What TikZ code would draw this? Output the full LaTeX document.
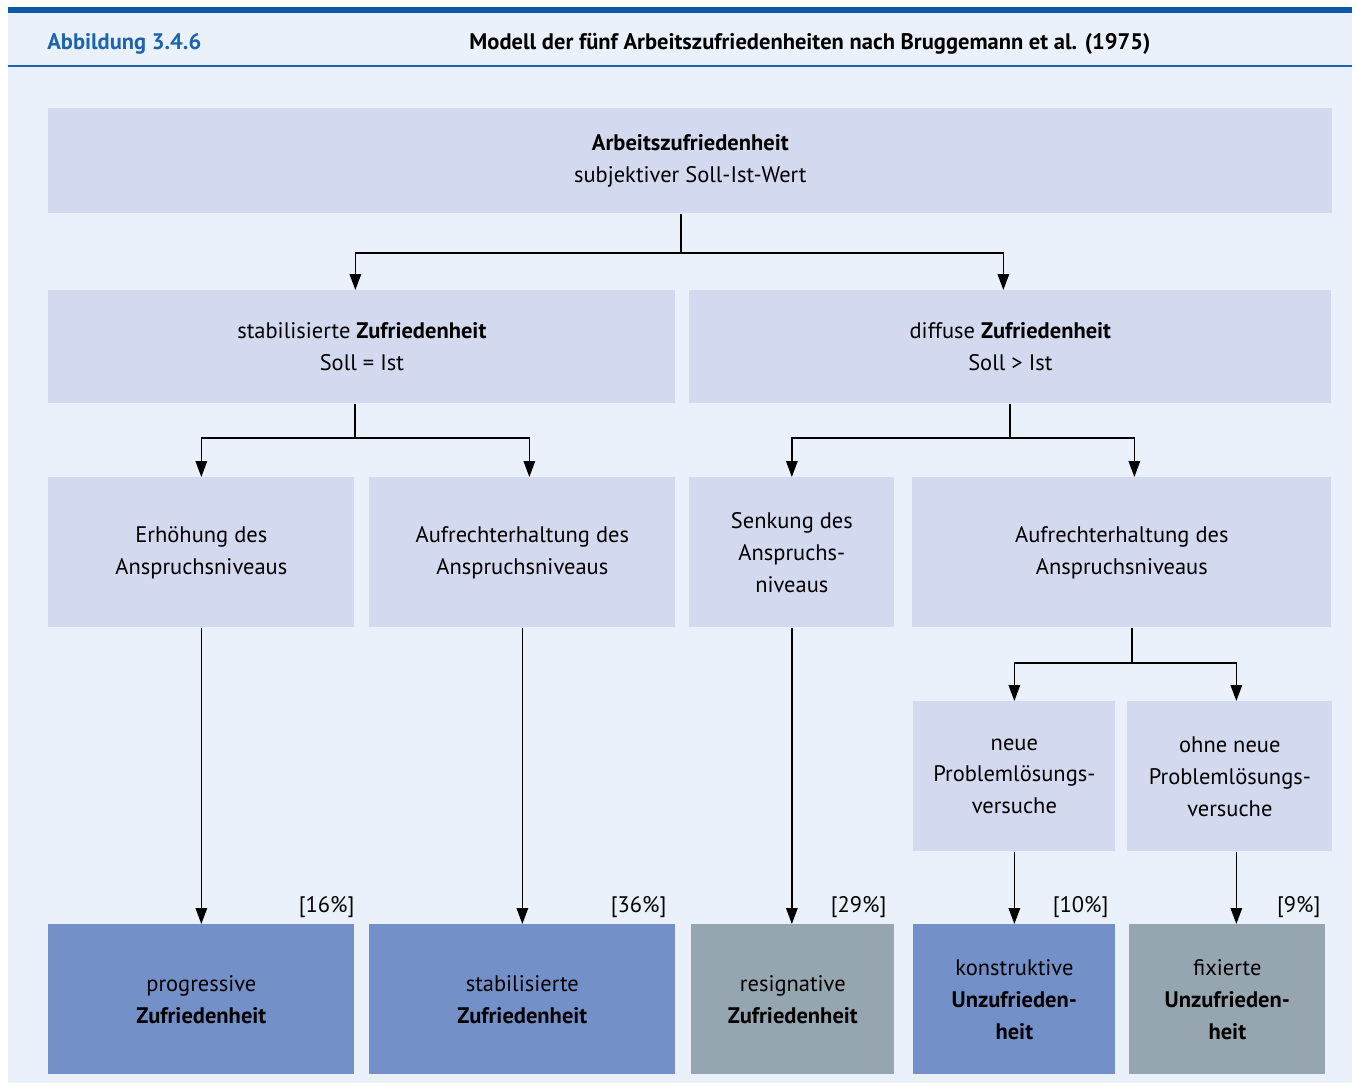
\documentclass[tikz,border=0pt]{standalone}
\usepackage{fontspec}
\setmainfont{PT Sans}
\usepackage{tikz}
\usetikzlibrary{arrows.meta,positioning}
\definecolor{azBar}{HTML}{0A5AA6}
\definecolor{azHead}{HTML}{1C64AE}
\definecolor{azBg}{HTML}{EAF1FB}
\definecolor{azBox}{HTML}{D3D9EF}
\definecolor{azBlue}{HTML}{7390C9}
\definecolor{azGrey}{HTML}{95A6B0}
\tikzset{
  boxsize/.style 2 args={minimum width=#1*0.02cm,minimum height=#2*0.02cm},
  flowblock/.style={rectangle,fill=azBox,anchor=north west,inner sep=0pt,
    align=center,font=\fontsize{12.8}{18.2}\selectfont},
  flowgood/.style={flowblock,fill=azBlue},
  flowbad/.style={flowblock,fill=azGrey},
  share/.style={inner sep=0pt,font=\fontsize{12.8}{18.2}\selectfont},
  headline/.style={inner sep=0pt,font=\fontsize{12.8}{15}\selectfont\bfseries},
  link/.style={line width=0.8pt},
  stem/.style={line width=1.4pt},
  arrow/.style={link,-{Triangle[width=6.5pt,length=9pt]}}
}

\begin{document}
\begin{tikzpicture}[x=0.02cm,y=-0.02cm]
  \useasboundingbox (0,0) rectangle (1357,1086);
  \fill[azBg] (8,12) rectangle (1352,1083);
  \fill[azBar] (8,7) rectangle (1352,13);
  \draw[azHead,line width=0.9pt] (8,66) -- (1352,66);
  \node[headline,anchor=west,text=azHead] (fig) at (47,44) {Abbildung 3.4.6};
  \node[headline] (title) at (810,44) {Modell der fünf Arbeitszufriedenheiten nach Bruggemann et al. (1975)};

  % Stufen
  \node[flowblock,boxsize={1284}{105}] (top) at (48,108) {\textbf{Arbeitszufriedenheit}\\subjektiver Soll-Ist-Wert};
  \node[flowblock,boxsize={627}{113}] (stab) at (48,290) {stabilisierte \textbf{Zufriedenheit}\\Soll = Ist};
  \node[flowblock,boxsize={642}{113}] (diff) at (689,290) {diffuse \textbf{Zufriedenheit}\\Soll > Ist};
  \node[flowblock,boxsize={306}{150}] (erh) at (48,477) {Erhöhung des\\Anspruchsniveaus};
  \node[flowblock,boxsize={306}{150}] (aufl) at (369,477) {Aufrechterhaltung des\\Anspruchsniveaus};
  \node[flowblock,boxsize={205}{150}] (senk) at (689,477) {Senkung des\\Anspruchs-\\niveaus};
  \node[flowblock,boxsize={419}{150}] (aufr) at (912,477) {Aufrechterhaltung des\\Anspruchsniveaus};
  \node[flowblock,boxsize={202}{150}] (neu) at (913,701) {neue\\Problemlösungs-\\versuche};
  \node[flowblock,boxsize={205}{150}] (ohne) at (1127,701) {ohne neue\\Problemlösungs-\\versuche};

  % Formen
  \node[flowgood,boxsize={306}{150}] (prog) at (48,924) {progressive\\\textbf{Zufriedenheit}};
  \node[flowgood,boxsize={306}{150}] (stz) at (369,924) {stabilisierte\\\textbf{Zufriedenheit}};
  \node[flowbad,boxsize={203}{150}] (resig) at (691,924) {resignative\\\textbf{Zufriedenheit}};
  \node[flowgood,boxsize={202}{150}] (konst) at (913,924) {konstruktive\\\textbf{Unzufrieden-}\\\textbf{heit}};
  \node[flowbad,boxsize={196}{150}] (fix) at (1129,924) {fixierte\\\textbf{Unzufrieden-}\\\textbf{heit}};

  \node[share,above left=0.12cm and 0cm of prog.north east] (p16) {[16\%]};
  \node[share,above left=0.12cm and 0.18cm of stz.north east] (p36) {[36\%]};
  \node[share,above left=0.12cm and 0.16cm of resig.north east] (p29) {[29\%]};
  \node[share,above left=0.12cm and 0.14cm of konst.north east] (p10) {[10\%]};
  \node[share,above left=0.12cm and 0.1cm of fix.north east] (p9) {[9\%]};

  % Verzweigungen
  \coordinate (j1) at (681,253);
  \coordinate (j2) at (355,438);
  \coordinate (j3) at (1010,438);
  \coordinate (j4) at (1132,663);
  \draw[link] (top.south -| j1) -- (j1);
  \draw[arrow] (j1) -| ([xshift=-0.13cm]stab.north);
  \draw[arrow] (j1) -| ([xshift=-0.14cm]diff.north);
  \draw[link] (stab.south -| j2) -- (j2);
  \draw[arrow] (j2) -| (erh.north);
  \draw[arrow] (j2) -| ([xshift=0.14cm]aufl.north);
  \draw[stem] (diff.south -| j3) -- (j3);
  \draw[arrow] (j3) -| (senk.north);
  \draw[arrow] (j3) -| ([xshift=0.25cm]aufr.north);
  \draw[stem] (aufr.south -| j4) -- (j4);
  \draw[arrow] (j4) -| (neu.north);
  \draw[arrow] (j4) -| ([xshift=0.13cm]ohne.north);

  \draw[arrow] (erh.south) -- (erh.south |- prog.north);
  \draw[arrow] (aufl.south) -- (aufl.south |- stz.north);
  \draw[arrow] (senk.south) -- (senk.south |- resig.north);
  \draw[arrow] (neu.south) -- (neu.south |- konst.north);
  \draw[arrow] ([xshift=0.13cm]ohne.south) -- ([xshift=0.13cm]ohne.south |- fix.north);
\end{tikzpicture}
\end{document}
